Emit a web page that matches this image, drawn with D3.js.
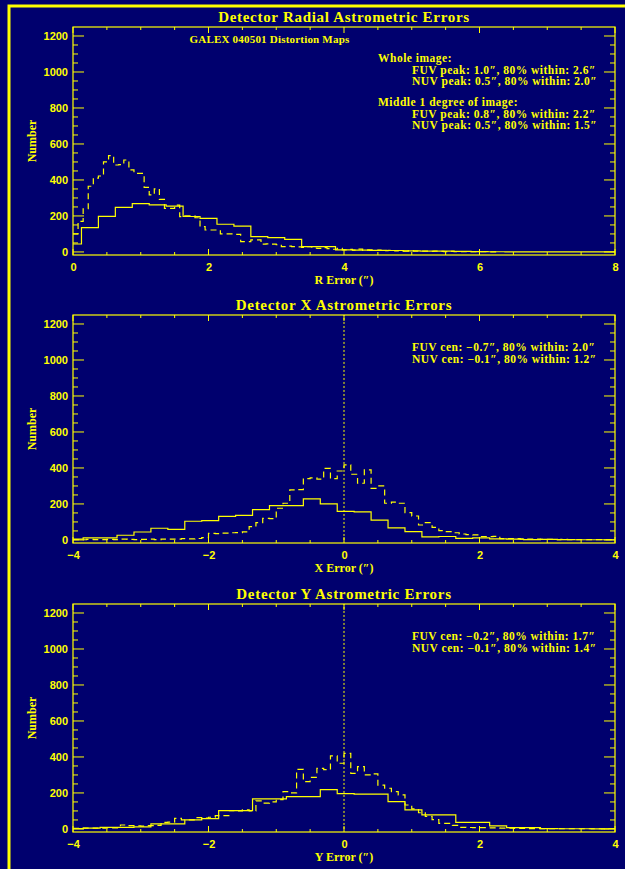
<!DOCTYPE html>
<html>
<head>
<meta charset="utf-8">
<script src="https://cdn.jsdelivr.net/npm/d3@7"></script>
<style>
  html, body { margin: 0; padding: 0; background: #00006e; }
  svg { display: block; }
  .serif { font-family: "Liberation Serif", "DejaVu Serif", serif; font-weight: bold; fill: #ffff00; }
  .sans { font-family: "Liberation Sans", "DejaVu Sans", sans-serif; font-weight: bold; fill: #ffff00; }
</style>
</head>
<body>
<svg id="chart" width="625" height="869"></svg>
<script>
// ---- Data -------------------------------------------------------------
const panelTitles = ["Detector Radial Astrometric Errors", "Detector X Astrometric Errors", "Detector Y Astrometric Errors"];
const xAxisTitles = ["R Error (\u2033)", "X Error (\u2033)", "Y Error (\u2033)"];
const yAxisTitle = "Number";
const yTicks = [0, 200, 400, 600, 800, 1000, 1200];
const radialTicks = [0, 2, 4, 6, 8];
const offsetTicks = [-4, -2, 0, 2, 4];

// Radial error histograms
const radialFuvStart = -0.125, radialFuvWidth = 0.25;
const radialFuv = [44, 135, 198, 248, 268, 262, 255, 197, 186, 154, 144, 85, 80, 70, 30, 30,
  12, 10, 9, 8, 6, 5, 4, 3, 2, 1, 0, 0, 0, 0, 0, 0, 0];
const radialNuvStart = 0, radialNuvWidth = 0.075;
const radialNuv = [
  100, 170, 240, 365, 410, 422, 500, 535, 483, 485,
  511, 456, 437, 437, 359, 317, 350, 292, 242, 242,
  260, 196, 200, 200, 190, 141, 122, 122, 122, 100,
  100, 100, 98, 57, 57, 67, 67, 43, 45, 43,
  40, 30, 32, 30, 28, 25, 30, 22, 20, 24,
  18, 15, 20, 12, 14, 10, 16, 9, 12, 8,
  10, 7, 9, 6, 8, 5, 7, 4, 5, 4,
  3, 4, 3, 2, 3, 2, 2, 1, 2, 1,
  1, 1, 0, 0];

// X error histograms
const xFuvStart = -4.1, xFuvWidth = 0.25;
const xFuv = [5, 11, 11, 26, 44, 65, 59, 104, 107, 131, 137, 168, 191, 191, 228, 200,
  159, 156, 110, 67, 46, 17, 19, 9, 12, 6, 5, 2, 3, 2, 1, 1, 1];
const xNuvStart = -4.0, xNuvWidth = 0.1;
const xNuv = [
  2, 1, 3, 2, 2, 3, 2, 4, 3, 2,
  3, 4, 2, 5, 4, 5, 7, 6, 8, 13,
  37, 35, 38, 40, 41, 45, 74, 96, 120, 118,
  176, 204, 278, 280, 341, 345, 338, 398, 341, 383,
  417, 365, 315, 389, 287, 300, 204, 210, 204, 152,
  133, 83, 96, 70, 52, 46, 40, 33, 30, 28,
  19, 18, 20, 7, 8, 7, 5, 5, 4, 3,
  3, 2, 3, 2, 2, 1, 2, 2, 1, 1];

// Y error histograms
const yFuvStart = -4.1, yFuvWidth = 0.25;
const yFuv = [2, 5, 9, 9, 12, 28, 28, 50, 57, 102, 102, 167, 167, 180, 180, 219,
  196, 194, 194, 152, 106, 78, 78, 37, 37, 17, 7, 7, 2, 1, 1, 0, 1];
const yNuvStart = -4.0, yNuvWidth = 0.1;
const yNuv = [
  3, 4, 5, 4, 5, 6, 6, 22, 18, 17,
  16, 18, 20, 37, 38, 59, 50, 50, 63, 60,
  65, 74, 74, 102, 100, 106, 100, 156, 144, 150,
  163, 207, 200, 331, 263, 287, 337, 330, 406, 365,
  420, 309, 346, 300, 306, 244, 226, 207, 189, 133,
  111, 90, 70, 52, 31, 31, 20, 9, 8, 7,
  7, 6, 6, 5, 4, 3, 3, 2, 2, 2,
  2, 2, 1, 1, 1, 1, 1, 1, 0, 1];

// Annotation text
const mapTitle = "GALEX 040501 Distortion Maps";
const radialNotes = [
  { text: "Whole image:", indent: 0 },
  { text: "FUV peak: 1.0\u2033, 80% within: 2.6\u2033", indent: 1 },
  { text: "NUV peak: 0.5\u2033, 80% within: 2.0\u2033", indent: 1 },
  { text: "Middle 1 degree of image:", indent: 0 },
  { text: "FUV peak: 0.8\u2033, 80% within: 2.2\u2033", indent: 1 },
  { text: "NUV peak: 0.5\u2033, 80% within: 1.5\u2033", indent: 1 }
];
const xNotes = ["FUV cen: \u22120.7\u2033, 80% within: 2.0\u2033", "NUV cen: \u22120.1\u2033, 80% within: 1.2\u2033"];
const yNotes = ["FUV cen: \u22120.2\u2033, 80% within: 1.7\u2033", "NUV cen: \u22120.1\u2033, 80% within: 1.4\u2033"];

// ---- Drawing ------------------------------------------------------------
const YELLOW = "#ffff00";
const svg = d3.select("#chart");

svg.append("rect").attr("width", 625).attr("height", 869).attr("fill", "#00006e");
// outer frame
svg.append("rect").attr("x", 9).attr("y", 6).attr("width", 700).attr("height", 900)
  .attr("fill", "none").attr("stroke", YELLOW).attr("stroke-width", 3);

const left = 73, right = 615, plotH = 228;
const panels = [
  { top: 27, domain: [0, 8], ticks: radialTicks, minor: 0.5, title: panelTitles[0], xTitle: xAxisTitles[0],
    series: [
      { start: radialFuvStart, width: radialFuvWidth, values: radialFuv, dash: null },
      { start: radialNuvStart, width: radialNuvWidth, values: radialNuv, dash: "6,4" }
    ], zeroLine: false },
  { top: 315, domain: [-4, 4], ticks: offsetTicks, minor: 0.5, title: panelTitles[1], xTitle: xAxisTitles[1],
    series: [
      { start: xFuvStart, width: xFuvWidth, values: xFuv, dash: null },
      { start: xNuvStart, width: xNuvWidth, values: xNuv, dash: "6,4" }
    ], zeroLine: true, notes: xNotes },
  { top: 604, domain: [-4, 4], ticks: offsetTicks, minor: 0.5, title: panelTitles[2], xTitle: xAxisTitles[2],
    series: [
      { start: yFuvStart, width: yFuvWidth, values: yFuv, dash: null },
      { start: yNuvStart, width: yNuvWidth, values: yNuv, dash: "6,4" }
    ], zeroLine: true, notes: yNotes }
];

const fmt = d => (d < 0 ? "\u2212" + Math.abs(d) : String(d));

// annotation text style: slightly widened serif
function noteText(sel) {
  return sel.attr("class", "serif").attr("font-size", 11.5).attr("letter-spacing", 0.5);
}

panels.forEach((p, pi) => {
  const top = p.top, bottom = top + plotH;
  const x = d3.scaleLinear().domain(p.domain).range([left, right]);
  const y = d3.scaleLinear().domain([-17, 1250]).range([bottom, top]);
  const g = svg.append("g");

  const clipId = "clip" + pi;
  svg.append("clipPath").attr("id", clipId).append("rect")
    .attr("x", left).attr("y", top).attr("width", right - left).attr("height", plotH);

  // histograms (step lines)
  p.series.forEach(s => {
    const pts = s.values.map((v, i) => [s.start + i * s.width, v]);
    pts.push([s.start + s.values.length * s.width, s.values[s.values.length - 1]]);
    const line = d3.line().x(d => x(d[0])).y(d => y(d[1])).curve(d3.curveStepAfter);
    g.append("path").attr("d", line(pts)).attr("clip-path", `url(#${clipId})`)
      .attr("fill", "none").attr("stroke", YELLOW).attr("stroke-width", 1.2)
      .attr("stroke-dasharray", s.dash);
  });

  if (p.zeroLine) {
    g.append("line").attr("x1", x(0)).attr("x2", x(0)).attr("y1", y(0)).attr("y2", top)
      .attr("stroke", YELLOW).attr("stroke-width", 1).attr("stroke-dasharray", "2,2");
  }

  // frame box
  g.append("rect").attr("x", left).attr("y", top).attr("width", right - left).attr("height", plotH)
    .attr("fill", "none").attr("stroke", YELLOW).attr("stroke-width", 1.2);

  // x axis ticks (bottom up, top down)
  const xMinor = d3.range(p.domain[0], p.domain[1] + 1e-9, p.minor);
  xMinor.forEach(v => {
    const major = p.ticks.some(t => Math.abs(t - v) < 1e-9);
    const len = major ? 6 : 3;
    g.append("line").attr("x1", x(v)).attr("x2", x(v)).attr("y1", bottom).attr("y2", bottom - len)
      .attr("stroke", YELLOW).attr("stroke-width", 1);
    g.append("line").attr("x1", x(v)).attr("x2", x(v)).attr("y1", top).attr("y2", top + len)
      .attr("stroke", YELLOW).attr("stroke-width", 1);
  });
  const xAxis = d3.axisBottom(x).tickValues(p.ticks).tickSize(0).tickPadding(0).tickFormat(fmt);
  const xa = g.append("g").attr("transform", `translate(0,${bottom})`).call(xAxis);
  xa.select(".domain").remove();
  xa.selectAll("text").attr("class", "sans").attr("font-size", 11).attr("dy", null).attr("y", 16);

  // y axis ticks (left and right, inward)
  d3.range(0, 1201, 50).forEach(v => {
    const major = v % 200 === 0;
    const len = major ? 11 : 5;
    g.append("line").attr("x1", left).attr("x2", left + len).attr("y1", y(v)).attr("y2", y(v))
      .attr("stroke", YELLOW).attr("stroke-width", 1);
    g.append("line").attr("x1", right).attr("x2", right - len).attr("y1", y(v)).attr("y2", y(v))
      .attr("stroke", YELLOW).attr("stroke-width", 1);
  });
  const yAxis = d3.axisLeft(y).tickValues(yTicks).tickSize(0).tickPadding(5).tickFormat(d3.format("d"));
  const ya = g.append("g").attr("transform", `translate(${left},0)`).call(yAxis);
  ya.select(".domain").remove();
  ya.selectAll("text").attr("class", "sans").attr("font-size", 11).attr("dy", "0.36em");

  // titles
  g.append("text").attr("class", "serif").attr("font-size", 15).attr("letter-spacing", 0.7)
    .attr("text-anchor", "middle")
    .attr("x", (left + right) / 2).attr("y", top - 5).text(p.title);
  g.append("text").attr("class", "serif").attr("font-size", 12).attr("text-anchor", "middle")
    .attr("x", (left + right) / 2).attr("y", bottom + 29).text(p.xTitle);
  g.append("text").attr("class", "serif").attr("font-size", 12).attr("text-anchor", "middle")
    .attr("transform", `translate(36,${(top + bottom) / 2}) rotate(-90)`).text(yAxisTitle);

  if (p.notes) {
    p.notes.forEach((t, i) => {
      noteText(g.append("text")).attr("x", 412).attr("y", top + 36 + i * 11.5).text(t);
    });
  }
});

// panel 1 annotations
svg.append("text").attr("class", "serif").attr("font-size", 11).attr("letter-spacing", 0.2)
  .attr("text-anchor", "middle").attr("x", 269.5).attr("y", 43).text(mapTitle);
const noteY = [62, 73.5, 85, 106, 117.5, 129];
radialNotes.forEach((n, i) => {
  noteText(svg.append("text")).attr("x", n.indent ? 412 : 378).attr("y", noteY[i]).text(n.text);
});
</script>
</body>
</html>
